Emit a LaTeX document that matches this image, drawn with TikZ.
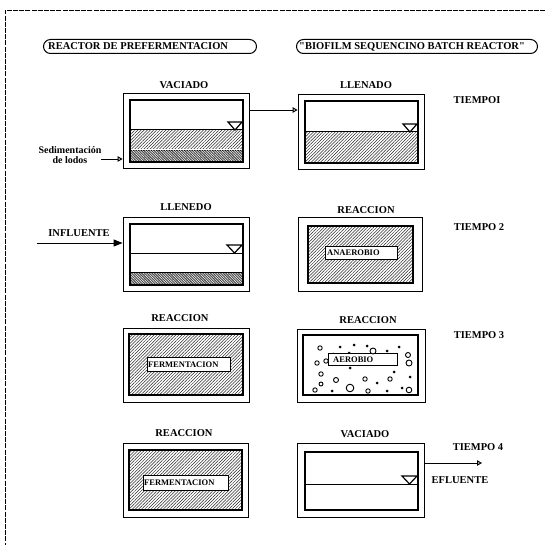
\documentclass[tikz,border=0pt]{standalone}
\usepackage{fontspec}
\setmainfont{Liberation Serif}[Ligatures=TeXOff]
\usetikzlibrary{fit,patterns.meta,arrows.meta}
\begin{document}
\begin{tikzpicture}[x=1pt,y=-1pt,
 lbl/.style={font=\bfseries\fontsize{10.5}{12}\selectfont, inner sep=0pt},
 small/.style={font=\bfseries\fontsize{8.5}{9}\selectfont, inner sep=0pt},
 obox/.style={draw, line width=0.8pt, inner sep=0pt},
 ibox/.style={draw, line width=1.5pt, inner sep=0pt},
 hatch/.style={pattern={Lines[angle=45,distance=2.2pt,line width=0.5pt]}, pattern color=black!85},
 dense/.style={fill=black!70},
 densew/.style={pattern={Lines[angle=-45,distance=1.8pt,line width=0.5pt]}, pattern color=white},
 tagbox/.style={draw, fill=white, line width=1pt, inner sep=0pt, anchor=north west},
 pill/.style={draw, line width=1pt, rounded corners=7pt, inner sep=0pt, anchor=north west},
 frame/.style={line width=0.8pt, dash pattern=on 5pt off 1.2pt},
 wl/.style={draw, fill=white, line width=1.2pt},
 oarrow/.style={line width=0.9pt, -{Triangle[open,length=5pt,width=5.5pt,line width=1pt]}},
 farrow/.style={line width=0.9pt, -{Triangle[length=9pt,width=7pt]}},
 bub/.style={draw, line width=0.9pt, fill=white},
 dot/.style={fill=black}
]
\useasboundingbox (0,0) rectangle (545,545);
% frame
\draw[frame] (545,10) -- (5,10) -- (5,545);
% headers
\node[pill, minimum width=213pt, minimum height=14pt] (p1) at (43,39) {};
\node[lbl, anchor=west] (p1t) at ([xshift=5pt]p1.west) {REACTOR DE PREFERMENTACION};
\node[pill, minimum width=241pt, minimum height=14pt] (p2) at (296,39) {};
\node[lbl, anchor=west] (p2t) at ([xshift=3pt]p2.west) {"BIOFILM SEQUENCINO BATCH REACTOR"};

% ---------- Row 1 ----------
\node[lbl] (tl1) at (184,85) {VACIADO};
\node[lbl] (tr1) at (366,85) {LLENADO};
\node[lbl] (t1) at (477,100) {TIEMPOI};
\node[obox, fit={(123,93) (249,168)}] (L1) {};
\fill[hatch] (130,130) rectangle (243,149);
\draw[line width=0.6pt] (130,150) -- (243,150);
\fill[dense] (130,151) rectangle (243,162);
\fill[densew] (130,151) rectangle (243,162);
\node[ibox, fit={(130,100) (243,162)}] (L1i) {};
\draw[line width=1pt] (130,130) -- (243,130);
\draw[wl] (228,122) -- (242,122) -- (235,130) -- cycle;

\node[obox, fit={(298,94) (424,169)}] (R1) {};
\fill[hatch] (305,132) rectangle (418,163);
\node[ibox, fit={(305,101) (418,163)}] (R1i) {};
\draw[line width=1pt] (305,132) -- (418,132);
\draw[wl] (403,124) -- (417,124) -- (410,132) -- cycle;

\coordinate (a1) at (249,110);
\draw[oarrow] (a1) -- (a1 -| R1.west);
\node[font=\bfseries\fontsize{10}{10}\selectfont, align=center, inner sep=0pt] (sed) at (70,155) {Sedimentación\\de lodos};
\coordinate (a2) at (101,159);
\draw[oarrow] (a2) -- (a2 -| L1.west);

% ---------- Row 2 ----------
\node[lbl] (tl2) at (186,207) {LLENEDO};
\node[lbl] (tr2) at (366,210) {REACCION};
\node[lbl] (t2) at (479,227) {TIEMPO 2};
\node[obox, fit={(123,217) (249,291)}] (L2) {};
\draw[line width=0.8pt] (130,272) -- (243,272);
\fill[dense] (130,273) rectangle (243,285);
\fill[densew] (130,273) rectangle (243,285);
\node[ibox, fit={(130,224) (243,285)}] (L2i) {};
\draw[line width=1pt] (130,253) -- (243,253);
\draw[wl] (227,245) -- (242,245) -- (234.5,253) -- cycle;
\node[lbl] (infl) at (79,233) {INFLUENTE};
\coordinate (a3) at (37,243);
\draw[farrow] (a3) -- (a3 -| L2.west);

\node[obox, fit={(298,217) (422,291)}] (R2) {};
\fill[hatch] (308,226) rectangle (413,283);
\node[ibox, line width=1.8pt, fit={(308,226) (413,283)}] (R2i) {};
\node[tagbox, minimum width=72pt, minimum height=13pt] (anae) at (325,246) {};
\node[small, anchor=west] (anaet) at ([xshift=2pt]anae.west) {ANAEROBIO};

% ---------- Row 3 ----------
\node[lbl] (tl3) at (180,318) {REACCION};
\node[lbl] (tr3) at (368,320) {REACCION};
\node[lbl] (t3) at (479,335) {TIEMPO 3};
\node[obox, fit={(123,328) (249,402)}] (L3) {};
\fill[hatch] (129,334) rectangle (243,395);
\node[ibox, fit={(129,334) (243,395)}] (L3i) {};
\node[tagbox, minimum width=83pt, minimum height=14pt] (ferm1) at (147,357) {};
\node[small, anchor=west] (ferm1t) at ([xshift=1pt]ferm1.west) {FERMENTACION};

\node[obox, fit={(297,329) (425,402)}] (R3) {};
\node[ibox, fit={(303,335) (418,395)}] (R3i) {};
\foreach \x/\y/\r in {320/348/2.2, 408/355/2.5, 317/363/2.2, 409/363/3,
  321/374/2.2, 336/380/2.5, 365/379/2.2, 390/379/2.2, 321/384/2, 315/390/2.2, 350/388/3.8,
  368/391/2.2, 409/390/2.8}
  \draw[bub] (\x,\y) circle[radius=\r];
\foreach \x/\y in {340/347, 354/345, 367/346, 387/351, 399/347, 333/354, 349/353, 362/356,
  394/372, 350/368, 377/383, 410/377, 332/391, 387/391, 402/388}
  \fill[dot] (\x,\y) circle[radius=1.5];
\node[tagbox, minimum width=69pt, minimum height=12pt] (aero) at (328,353) {};
\node[small, anchor=west] (aerot) at ([xshift=5pt]aero.west) {AEROBIO};
\draw[bub] (326,361) circle[radius=2.2];
\draw[bub] (373,351) circle[radius=3];

% ---------- Row 4 ----------
\node[lbl] (tl4) at (184,433) {REACCION};
\node[lbl] (tr4) at (365,434) {VACIADO};
\node[lbl] (t4) at (478,447) {TIEMPO 4};
\node[obox, fit={(123,443) (248,517)}] (L4) {};
\fill[hatch] (129,450) rectangle (242,510);
\node[ibox, fit={(129,450) (242,510)}] (L4i) {};
\node[tagbox, minimum width=85pt, minimum height=15pt] (ferm2) at (143,475) {};
\node[small, anchor=west] (ferm2t) at ([xshift=1pt]ferm2.west) {FERMENTACION};

\node[obox, fit={(297,443) (424,517)}] (R4) {};
\node[ibox, fit={(305,452) (418,510)}] (R4i) {};
\draw[line width=1pt] (305,484) -- (418,484);
\draw[wl] (402,476) -- (417,476) -- (409.5,484) -- cycle;
\coordinate (a4) at (482,463);
\draw[oarrow] (a4 -| R4.east) -- (a4);
\node[lbl] (efl) at (460,480) {EFLUENTE};
\end{tikzpicture}
\end{document}
